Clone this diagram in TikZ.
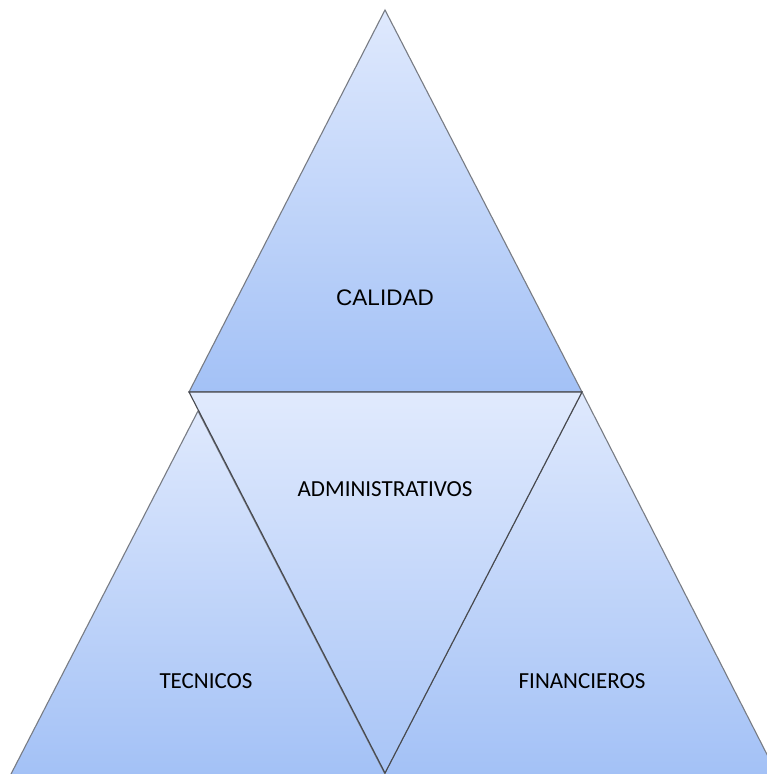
\documentclass[tikz,border=0pt]{standalone}
\usepackage{fontspec}
\setmainfont{Carlito}
\newfontfamily\arialfont{Liberation Sans}
\usepackage{tikz}
\definecolor{paleblue}{RGB}{223,233,253}
\definecolor{midblue}{RGB}{163,193,246}
\definecolor{edgegray}{RGB}{120,124,132}
\definecolor{edgedark}{RGB}{70,72,78}

\begin{document}
\begin{tikzpicture}[x=1pt, y=-1pt,
  tri/.style={draw=edgegray, line width=1.1pt, line join=miter, top color=paleblue, bottom color=midblue},
  midtri/.style={tri, draw=edgedark, top color=paleblue!95!white, bottom color=midblue!92!paleblue},
  word/.style={font=\fontsize{23}{25}\selectfont, text=black}]
\useasboundingbox (0, 0) rectangle (767, 774);
\fill [white] (0, 0) rectangle (767, 774);
% left and right triangles, at the back
\draw [tri] (198, 411) -- (10, 776) -- (386, 776) -- cycle;
\draw [tri] (582, 392) -- (385, 773) -- (385, 776) -- (778, 776) -- cycle;
% top triangle
\draw [tri] (385, 10) -- (189, 392) -- (582, 392) -- cycle;
% inverted triangle in the middle
\draw [midtri] (189, 392) -- (582, 392) -- (385, 773) -- cycle;
\node [word, font=\arialfont\fontsize{22.5}{25}\selectfont] (calidad) at (385, 298) {CALIDAD};
\node [word] (admin) at (385, 489) {ADMINISTRATIVOS};
\node [word] (tecnicos) at (206, 681) {TECNICOS};
\node [word] (financieros) at (582, 681) {FINANCIEROS};
\end{tikzpicture}
\end{document}
